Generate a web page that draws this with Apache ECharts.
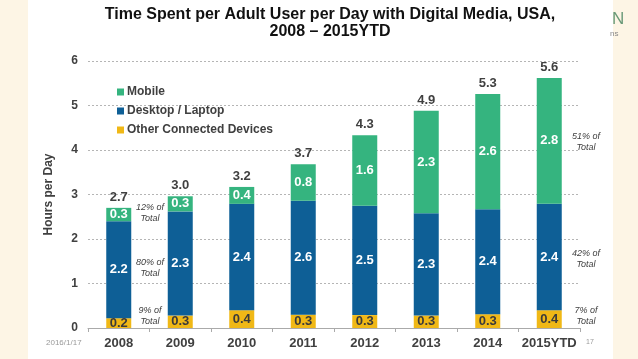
<!DOCTYPE html>
<html><head><meta charset="utf-8">
<script src="https://cdn.jsdelivr.net/npm/echarts@6/dist/echarts.min.js"></script>
<style>html,body{margin:0;padding:0;background:#fdf5e5;}#c{width:638px;height:359px;}</style>
</head><body><div id="c"></div>
<script>
const categories = ['2008','2009','2010','2011','2012','2013','2014','2015YTD'];
const otherDevices = [0.22, 0.28, 0.40, 0.30, 0.29, 0.28, 0.31, 0.40];
const desktop = [2.18, 2.34, 2.39, 2.56, 2.46, 2.30, 2.36, 2.39];
const mobile = [0.30, 0.34, 0.38, 0.82, 1.58, 2.30, 2.59, 2.83];
const totals = ['2.7','3.0','3.2','3.7','4.3','4.9','5.3','5.6'];
const yTicks = [0,1,2,3,4,5,6];

const chart = echarts.init(document.getElementById('c'), null, {renderer:'canvas'});
const F = 'Liberation Sans, Arial, sans-serif';
const txt = '#404040';
function lbl(color){return {show:true, position:'inside', color:color, fontFamily:F, fontWeight:'bold', fontSize:13, formatter:p=>p.value.toFixed(1)};}
const italic = {fill:'#404040', font:'italic 9px Liberation Sans, Arial, sans-serif', textAlign:'center'};
chart.setOption({
  backgroundColor:'transparent',
  animation:false,
  graphic:[
    {type:'rect', shape:{x:28,y:0,width:585,height:359}, style:{fill:'#ffffff'}, z:-10},
    {type:'text', x:330, y:6, style:{text:'Time Spent per Adult User per Day with Digital Media, USA,\n2008 \u2013 2015YTD', fill:'#111', font:'bold 16px Liberation Sans, Arial, sans-serif', textAlign:'center', lineHeight:17}},
    {type:'text', x:612, y:11, style:{text:'N', fill:'#6a9a78', font:'17px Liberation Sans, Arial, sans-serif'}},
    {type:'text', x:610, y:30, style:{text:'ns', fill:'#888', font:'8px Liberation Sans, Arial, sans-serif'}},
    {type:'text', x:46, y:339, style:{text:'2016/1/17', fill:'#999', font:'8px Liberation Sans, Arial, sans-serif'}},
    {type:'text', x:586, y:339, style:{text:'17', fill:'#999', font:'7px Liberation Sans, Arial, sans-serif'}},
    {type:'text', x:150, y:202, style:Object.assign({text:'12% of\nTotal', lineHeight:11}, italic)},
    {type:'text', x:150, y:257, style:Object.assign({text:'80% of\nTotal', lineHeight:11}, italic)},
    {type:'text', x:150, y:305, style:Object.assign({text:'9% of\nTotal', lineHeight:11}, italic)},
    {type:'text', x:586, y:131, style:Object.assign({text:'51% of\nTotal', lineHeight:11}, italic)},
    {type:'text', x:586, y:248, style:Object.assign({text:'42% of\nTotal', lineHeight:11}, italic)},
    {type:'text', x:586, y:305, style:Object.assign({text:'7% of\nTotal', lineHeight:11}, italic)}
  ],
  legend:{
    left:112, top:81, orient:'vertical', itemGap:7, itemWidth:7, itemHeight:7, icon:'rect',
    data:['Mobile','Desktop / Laptop','Other Connected Devices'],
    textStyle:{color:txt, fontFamily:F, fontWeight:'bold', fontSize:12, padding:[0,0,0,-2]}
  },
  grid:{left:88, right:58, top:61, bottom:31},
  xAxis:{type:'category', data:categories,
    axisLine:{lineStyle:{color:'#aaa'}}, axisTick:{show:true, length:4, lineStyle:{color:'#aaa'}},
    axisLabel:{interval:0, color:txt, fontFamily:F, fontWeight:'bold', fontSize:13, margin:9}},
  yAxis:{type:'value', min:0, max:6, interval:1,
    name:'Hours per Day', nameLocation:'middle', nameGap:33,
    nameTextStyle:{color:txt, fontFamily:F, fontWeight:'bold', fontSize:12},
    axisLabel:{color:txt, fontFamily:F, fontWeight:'bold', fontSize:12, margin:10, formatter:v=>yTicks.includes(v)?String(v):''},
    splitLine:{lineStyle:{color:'#b5b5b5', type:[2,2]}}},
  series:[
    {name:'Other Connected Devices', type:'bar', stack:'t', data:otherDevices, barWidth:25, itemStyle:{color:'#f0b816'}, label:lbl('#3a3a3a')},
    {name:'Desktop / Laptop', type:'bar', stack:'t', data:desktop, barWidth:25, itemStyle:{color:'#0e5f96'}, label:lbl('#ffffff')},
    {name:'Mobile', type:'bar', stack:'t', data:mobile, barWidth:25, itemStyle:{color:'#35b47f'}, label:lbl('#ffffff')},
    {name:'total', type:'bar', stack:'t', data:totals.map(()=>0), barWidth:25, itemStyle:{color:'transparent'},
      label:{show:true, position:'top', distance:4, color:txt, fontFamily:F, fontWeight:'bold', fontSize:13, formatter:p=>totals[p.dataIndex]}}
  ]
});
</script></body></html>
